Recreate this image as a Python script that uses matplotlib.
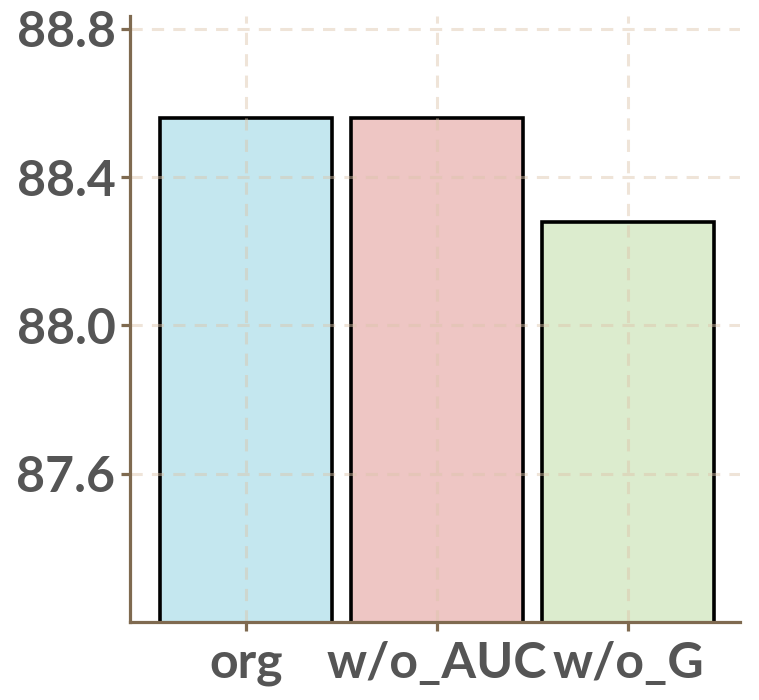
import matplotlib
matplotlib.use('Agg')
import matplotlib.pyplot as plt

# ablation results
labels = ['org', 'w/o_AUC', 'w/o_G']
scores = [88.56, 88.56, 88.28]
colors = ['#c4e7ef', '#eec6c4', '#dcecce']
yticks = [87.6, 88.0, 88.4, 88.8]

spine_color = '#7f6a50'
text_color = '#555555'

plt.rcParams['font.family'] = ['Lato', 'DejaVu Sans']

fig = plt.figure(figsize=(7.59, 7.0), dpi=100)
ax = fig.add_axes([130 / 759, 78 / 700, 610 / 759, 606 / 700])

x = range(len(labels))
ax.bar(x, scores, width=0.9, color=colors, edgecolor='black',
       linewidth=2.6, zorder=2)

ax.set_xlim(-0.607, 2.586)
ax.set_ylim(87.2, 88.835)
ax.set_xticks(list(x))
ax.set_xticklabels(labels)
ax.set_yticks(yticks)
ax.set_yticklabels(['%.1f' % t for t in yticks])

ax.grid(True, color='#dcc4aa', linestyle=(0, (4, 3)), linewidth=2.2,
        alpha=0.45, zorder=3)
ax.set_axisbelow(False)

for side in ['top', 'right']:
    ax.spines[side].set_visible(False)
for side in ['left', 'bottom']:
    ax.spines[side].set_color(spine_color)
    ax.spines[side].set_linewidth(2.3)
    ax.spines[side].set_zorder(4)

ax.tick_params(axis='both', colors=spine_color, length=6.5, width=2.3,
               labelcolor=text_color, labelsize=36)
for lbl in ax.get_xticklabels() + ax.get_yticklabels():
    lbl.set_fontweight('bold')
ax.tick_params(axis='x', labelsize=36, pad=7)
ax.tick_params(axis='y', pad=4)

fig.savefig('out.png', dpi=100)
